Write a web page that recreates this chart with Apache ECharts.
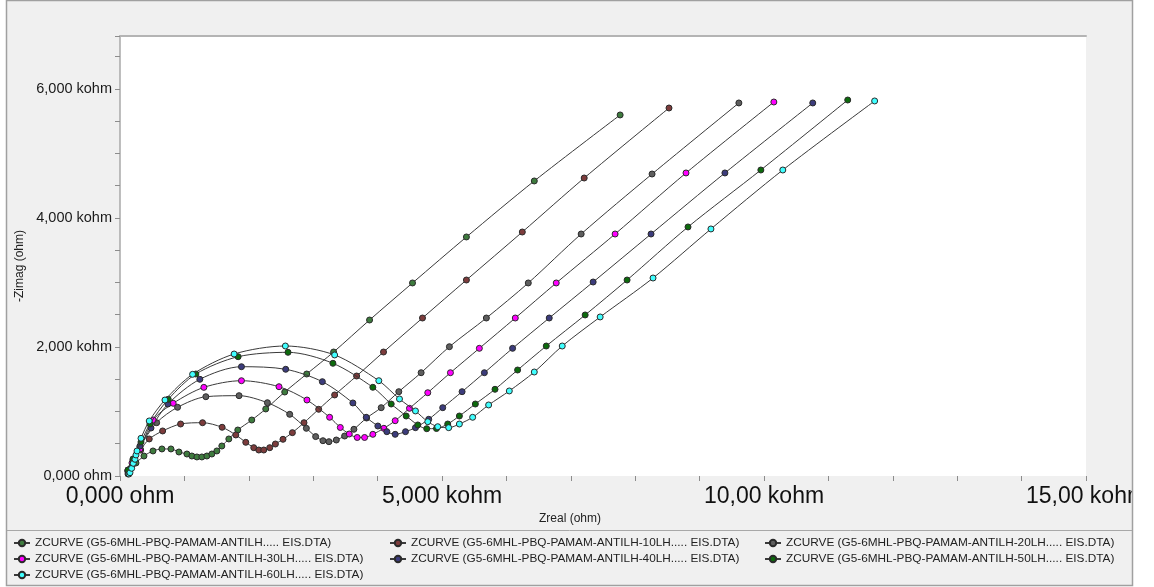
<!DOCTYPE html>
<html>
<head>
<meta charset="utf-8">
<script src="https://cdn.jsdelivr.net/npm/echarts@6/dist/echarts.min.js"></script>
<style>
  html, body { margin: 0; padding: 0; background: #ffffff; }
  #chart { width: 1154px; height: 587px; }
</style>
</head>
<body>
<div id="chart"></div>
<script>
// Nyquist plot of seven EIS runs. Each point is [Zreal, -Zimag] in ohm.
const seriesNames = [
  'ZCURVE (G5-6MHL-PBQ-PAMAM-ANTILH..... EIS.DTA)',
  'ZCURVE (G5-6MHL-PBQ-PAMAM-ANTILH-10LH..... EIS.DTA)',
  'ZCURVE (G5-6MHL-PBQ-PAMAM-ANTILH-20LH..... EIS.DTA)',
  'ZCURVE (G5-6MHL-PBQ-PAMAM-ANTILH-30LH..... EIS.DTA)',
  'ZCURVE (G5-6MHL-PBQ-PAMAM-ANTILH-40LH..... EIS.DTA)',
  'ZCURVE (G5-6MHL-PBQ-PAMAM-ANTILH-50LH..... EIS.DTA)',
  'ZCURVE (G5-6MHL-PBQ-PAMAM-ANTILH-60LH..... EIS.DTA)'
];
const seriesColors = ['#3e7b3e', '#7d3c3c', '#5e5e5e', '#ff00ff', '#3c3c7c', '#0c6a0c', '#40ffff'];

const zBase = [
  [124, 31], [171, 124], [248, 202], [372, 310], [512, 388], [651, 419], [791, 419],
  [915, 372], [1039, 341], [1116, 310], [1194, 295], [1271, 295], [1349, 310],
  [1426, 341], [1504, 388], [1581, 465], [1690, 574], [1829, 713], [2046, 868],
  [2263, 1039], [2558, 1302], [2899, 1581], [3317, 1922], [3875, 2418],
  [4542, 2992], [5379, 3705], [6433, 4573], [7766, 5596]
];
const z10 = [
  [124, 62], [202, 186], [321, 403], [454, 574], [662, 698], [941, 806], [1282, 826],
  [1586, 755], [1798, 636], [1953, 522], [2077, 439], [2155, 403], [2232, 403],
  [2325, 439], [2413, 496], [2531, 569], [2677, 672], [2857, 826], [3085, 1034],
  [3333, 1256], [3674, 1550], [4092, 1922], [4697, 2449], [5379, 3038],
  [6247, 3782], [7208, 4619], [8525, 5704]
];
const z20 = [
  [124, 78], [202, 217], [310, 450], [569, 826], [894, 1065], [1333, 1229],
  [1849, 1245], [2289, 1136], [2635, 956], [2894, 739], [3038, 611], [3151, 547],
  [3244, 532], [3359, 558], [3488, 620], [3632, 724], [3829, 899], [4056, 1059],
  [4329, 1307], [4676, 1601], [5115, 2004], [5689, 2449], [6340, 2992],
  [7161, 3751], [8262, 4681], [9610, 5782]
];
const z30 = [
  [124, 78], [186, 202], [310, 419], [516, 868], [826, 1127], [1302, 1374],
  [1886, 1477], [2469, 1384], [2903, 1178], [3255, 910], [3421, 752], [3560, 651],
  [3684, 597], [3798, 597], [3926, 646], [4097, 739], [4273, 857], [4495, 1049],
  [4779, 1291], [5131, 1601], [5580, 1979], [6138, 2449], [6774, 2992],
  [7688, 3751], [8789, 4697], [10153, 5797]
];
const z40 = [
  [124, 93], [202, 248], [310, 465], [481, 744], [744, 1116], [1240, 1499],
  [1886, 1694], [2573, 1654], [3142, 1462], [3616, 1132], [3824, 910], [4004, 775],
  [4143, 687], [4273, 646], [4433, 687], [4588, 749], [4794, 879], [5011, 1059],
  [5312, 1307], [5658, 1601], [6096, 1979], [6665, 2449], [7347, 3007],
  [8246, 3751], [9393, 4697], [10757, 5782]
];
const z50 = [
  [124, 93], [202, 264], [326, 527], [465, 806], [749, 1189], [1178, 1581],
  [1834, 1849], [2609, 1917], [3306, 1747], [3926, 1375], [4211, 1116], [4444, 930],
  [4624, 791], [4763, 733], [4914, 736], [5089, 806], [5270, 930], [5518, 1116],
  [5823, 1344], [6174, 1643], [6619, 2015], [7223, 2496], [7874, 3038],
  [8820, 3860], [9951, 4743], [11300, 5828]
];
const z60 = [
  [140, 31], [155, 51], [181, 119], [206, 197], [233, 259], [248, 326], [264, 388],
  [326, 584], [454, 853], [698, 1178], [1127, 1576], [1772, 1891], [2568, 2015],
  [3333, 1876], [4019, 1477], [4340, 1194], [4588, 1008], [4779, 842], [4934, 764],
  [5104, 749], [5270, 806], [5476, 910], [5724, 1101], [6045, 1318], [6433, 1612],
  [6867, 2015], [7456, 2465], [8277, 3069], [9176, 3829], [10292, 4743], [11718, 5813]
];
const curves = [zBase, z10, z20, z30, z40, z50, z60];

// Axis ranges and labelled tick values (ohm)
const xRange = [0, 15000];
const yRange = [0, 6820];
const xTickLabels = [0, 5000, 10000, 15000];
const yTickLabels = [0, 2000, 4000, 6000];

function ohmLabel(v) {
  if (v === 0) return '0,000 ohm';
  return (v / 1000).toPrecision(4).replace('.', ',') + ' kohm';
}

const FONT = '"Liberation Sans", Arial, sans-serif';
const chart = echarts.init(document.getElementById('chart'), null, { renderer: 'canvas' });

const series = curves.map((pts, i) => ({
  name: seriesNames[i],
  type: 'line',
  data: pts,
  smooth: 0.3,
  symbol: 'circle',
  symbolSize: 6,
  showAllSymbol: true,
  clip: true,
  lineStyle: { color: '#3a3a3a', width: 1 },
  itemStyle: { color: seriesColors[i], borderColor: '#2a2a2a', borderWidth: 1 },
  emphasis: { disabled: true },
  z: 2 + i
}));

const legendStyle = {
  orient: 'vertical',
  top: 535,
  itemWidth: 16,
  itemHeight: 8,
  itemGap: 0,
  padding: 0,
  selectedMode: false,
  textStyle: { fontSize: 11.8, color: '#222', fontFamily: FONT, lineHeight: 16 }
};

chart.setOption({
  animation: false,
  backgroundColor: '#ffffff',
  grid: {
    left: 120, right: 68, top: 36, bottom: 111,
    show: true, backgroundColor: '#ffffff', borderWidth: 0
  },
  legend: [
    Object.assign({ left: 13, data: [seriesNames[0], seriesNames[3], seriesNames[6]] }, legendStyle),
    Object.assign({ left: 389, data: [seriesNames[1], seriesNames[4]] }, legendStyle),
    Object.assign({ left: 764, data: [seriesNames[2], seriesNames[5]] }, legendStyle)
  ],
  xAxis: [
    {
      type: 'value', min: xRange[0], max: xRange[1], interval: 1000,
      name: 'Zreal (ohm)', nameLocation: 'middle', nameGap: 37,
      nameTextStyle: { fontSize: 12, color: '#222', fontFamily: FONT, padding: [0, 66, 0, 0] },
      axisLine: { show: false },
      axisTick: { show: true, length: 5, lineStyle: { color: '#8c8c8c' } },
      splitLine: { show: false },
      axisLabel: {
        customValues: xTickLabels, formatter: ohmLabel, fontSize: 23,
        color: '#111', fontFamily: FONT, margin: 9, hideOverlap: false
      }
    },
    {
      type: 'value', position: 'top', min: xRange[0], max: xRange[1],
      axisLine: { show: true, lineStyle: { color: '#b4b4b4', width: 2 } },
      axisTick: { show: false }, axisLabel: { show: false }, splitLine: { show: false }
    }
  ],
  yAxis: {
    type: 'value', min: yRange[0], max: yRange[1], interval: 500,
    name: '-Zimag (ohm)', nameLocation: 'middle', nameGap: 90,
    nameTextStyle: { fontSize: 12, color: '#222', fontFamily: FONT, padding: [0, 20, 0, 0] },
    axisLine: { show: true, lineStyle: { color: '#a8a8a8', width: 1.5 } },
    axisTick: { show: true, length: 5, lineStyle: { color: '#8c8c8c' } },
    splitLine: { show: false },
    axisLabel: {
      customValues: yTickLabels, formatter: ohmLabel, fontSize: 14.5,
      color: '#1a1a1a', fontFamily: FONT, margin: 8
    }
  },
  graphic: [
    { type: 'rect', z: -10, shape: { x: 6, y: 0, width: 1127, height: 586 }, style: { fill: '#f0f0f0' } },
    { type: 'rect', z: 100, shape: { x: 1133, y: 0, width: 21, height: 587 }, style: { fill: '#ffffff' } },
    { type: 'rect', z: 101, shape: { x: 6.5, y: 0.5, width: 1126, height: 585 }, style: { fill: 'none', stroke: '#a0a0a0', lineWidth: 1.5 } },
    { type: 'line', z: 101, shape: { x1: 7, y1: 530.5, x2: 1132, y2: 530.5 }, style: { stroke: '#a8a8a8', lineWidth: 1 } }
  ],
  series: series
});
</script>
</body>
</html>
